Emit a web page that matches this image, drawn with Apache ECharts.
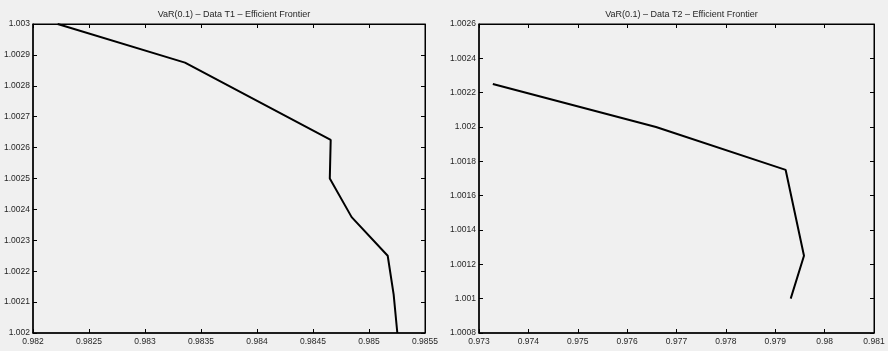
<!DOCTYPE html>
<html>
<head>
<meta charset="utf-8">
<script src="https://cdn.jsdelivr.net/npm/echarts@6/dist/echarts.min.js"></script>
<style>
html, body { margin: 0; padding: 0; background: #f0f0f0; }
#chart { width: 888px; height: 351px; }
</style>
</head>
<body>
<div id="chart"></div>
<script>
// T1 frontier (risk, return)
var t1Risk = [0.98222, 0.983357, 0.984658, 0.98465, 0.984845, 0.985167, 0.98522, 0.985253];
var t1Ret = [1.003, 1.002875, 1.002625, 1.0025, 1.002375, 1.00225, 1.002125, 1.002];

// T2 frontier
var t2Risk = [0.97328, 0.976585, 0.979211, 0.979582, 0.979313];
var t2Ret = [1.00225, 1.002, 1.00175, 1.00125, 1.001];

var titles = ['VaR(0.1) \u2013 Data T1 \u2013 Efficient Frontier', 'VaR(0.1) \u2013 Data T2 \u2013 Efficient Frontier'];

// axis limits [min, max, step]
var xLim = [[0.982, 0.9855, 0.0005], [0.973, 0.981, 0.001]];
var yLim = [[1.002, 1.003, 0.0001], [1.0008, 1.0026, 0.0002]];

var grids = [
    { left: 33, top: 24, width: 392, height: 309 },
    { left: 479, top: 24, width: 395, height: 309 }
];

function fmt(v) {
    return parseFloat(v.toFixed(6)).toString();
}

var font = 'Liberation Sans, Arial, sans-serif';

var xAxes = [], yAxes = [], series = [], titleList = [];

grids.forEach(function (g, i) {
    g.show = true;
    g.borderColor = '#000';
    g.borderWidth = 1;
    g.backgroundColor = 'transparent';

    ['bottom', 'top'].forEach(function (pos) {
        xAxes.push({
            type: 'value', gridIndex: i, position: pos,
            min: xLim[i][0], max: xLim[i][1], interval: xLim[i][2],
            axisLine: { show: true, onZero: false, lineStyle: { color: '#000', width: pos === 'bottom' ? 1.5 : 1 } },
            axisTick: { show: true, inside: true, length: 4, lineStyle: { color: '#000' } },
            axisLabel: {
                show: pos === 'bottom', margin: 4, fontSize: 8.5, color: '#262626', fontFamily: font,
                formatter: fmt, showMinLabel: true, showMaxLabel: true
            },
            splitLine: { show: false }
        });
    });
    ['left', 'right'].forEach(function (pos) {
        yAxes.push({
            type: 'value', gridIndex: i, position: pos,
            min: yLim[i][0], max: yLim[i][1], interval: yLim[i][2],
            axisLine: { show: true, onZero: false, lineStyle: { color: '#000', width: pos === 'left' ? 1.5 : 1 } },
            axisTick: { show: true, inside: true, length: 4, lineStyle: { color: '#000' } },
            axisLabel: {
                show: pos === 'left', margin: 3, fontSize: 8.5, color: '#262626', fontFamily: font,
                formatter: fmt, showMinLabel: true, showMaxLabel: true
            },
            splitLine: { show: false }
        });
    });

    titleList.push({
        text: titles[i],
        left: g.left + g.width / 2,
        textAlign: 'center',
        top: 5,
        textStyle: { fontSize: 9, fontWeight: 'normal', color: '#262626', fontFamily: font }
    });
});

var datasets = [
    t1Risk.map(function (x, k) { return [x, t1Ret[k]]; }),
    t2Risk.map(function (x, k) { return [x, t2Ret[k]]; })
];

datasets.forEach(function (d, i) {
    series.push({
        type: 'line',
        xAxisIndex: i * 2,
        yAxisIndex: i * 2,
        data: d,
        showSymbol: false,
        clip: true,
        lineStyle: { color: '#000', width: 2 },
        animation: false
    });
});

var myChart = echarts.init(document.getElementById('chart'));
myChart.setOption({
    backgroundColor: '#f0f0f0',
    animation: false,
    title: titleList,
    grid: grids,
    xAxis: xAxes,
    yAxis: yAxes,
    series: series
});
</script>
</body>
</html>
